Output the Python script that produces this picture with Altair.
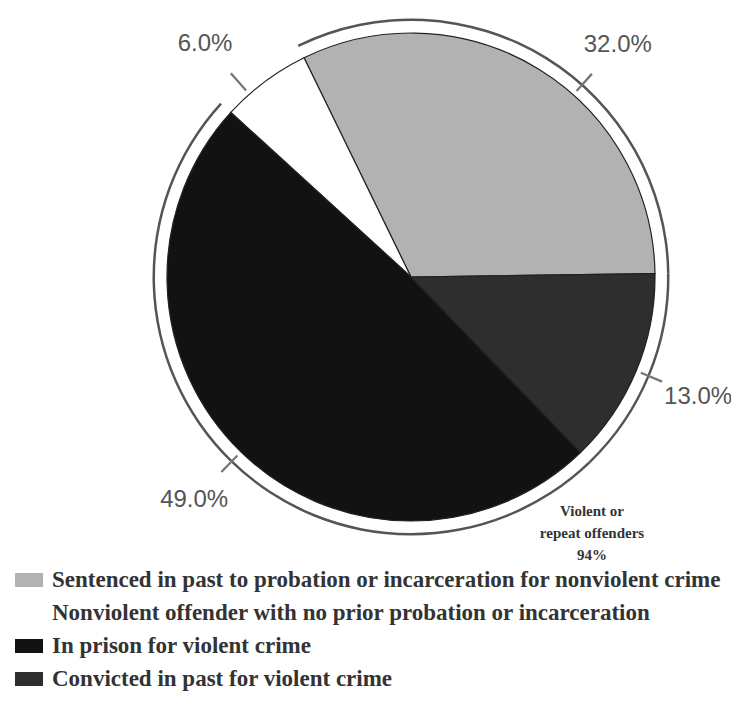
import math
import altair as alt
import pandas as pd

# ---- data (legend order) ----
categories = [
    "Sentenced in past to probation or incarceration for nonviolent crime",
    "Nonviolent offender with no prior probation or incarceration",
    "In prison for violent crime",
    "Convicted in past for violent crime",
]
values = [32.0, 6.0, 49.0, 13.0]
pie_order = [1, 4, 3, 2]          # clockwise order of slices in the pie
labels = ["32.0%", "6.0%", "49.0%", "13.0%"]
violent = [True, False, True, True]
note_lines = ["Violent or", "repeat offenders", "94%"]

# ---- styles ----
colors = ["#b2b2b2", "#ffffff", "#121212", "#2e2e2e"]
CX, CY = 403, 269
start = math.radians(-26)
total = sum(values)

df = pd.DataFrame({
    "category": categories,
    "value": values,
    "order": pie_order,
    "label": labels,
    "violent": violent,
})

theta_scale = alt.Scale(domain=[0, total], range=[start, start + 2 * math.pi])
base = alt.Chart(df)

legend = alt.Legend(
    title=None, orient="none", legendX=7, legendY=558, direction="vertical",
    symbolType="M-1,-0.5L1,-0.5L1,0.5L-1,0.5Z", symbolSize=784,
    symbolStrokeWidth=0, symbolOpacity=1,
    labelFont="Liberation Serif", labelFontWeight="bold", labelFontSize=23,
    labelColor="#333333", labelLimit=900, labelOffset=9, rowPadding=7, padding=0,
)

pie = base.mark_arc(outerRadius=244, stroke="#222222", strokeWidth=1.2).encode(
    theta=alt.Theta("value:Q", stack=True, scale=theta_scale),
    order=alt.Order("order:Q"),
    color=alt.Color("category:N", scale=alt.Scale(domain=categories, range=colors), legend=legend),
    x=alt.value(CX), y=alt.value(CY),
)

ring = base.transform_filter(alt.datum.violent).mark_arc(
    innerRadius=256, outerRadius=258.5, color="#555555"
).encode(
    theta=alt.Theta("value:Q", stack=True, scale=theta_scale),
    order=alt.Order("order:Q"),
    x=alt.value(CX), y=alt.value(CY),
)

# label/tick angle: middle of slice, nudged for the two top labels
mids = base.transform_window(
    cum="sum(value)", sort=[alt.SortField("order")]
).transform_calculate(
    mid="datum.cum - datum.value / 2 + (datum.order == 1 ? 2.8 : (datum.order == 4 ? -1.3 : 0))"
).transform_calculate(
    t0="datum.mid - 0.07", t1="datum.mid + 0.07"
)

ticks = mids.mark_arc(innerRadius=249, outerRadius=272, color="#777777").encode(
    theta=alt.Theta("t0:Q", stack=False, scale=theta_scale),
    theta2="t1:Q",
    x=alt.value(CX), y=alt.value(CY),
)

text_labels = mids.mark_text(
    radius=311, font="Liberation Sans", fontSize=24, color="#555555",
    align="center", baseline="middle",
).encode(
    theta=alt.Theta("mid:Q", stack=False, scale=theta_scale),
    text="label:N",
    x=alt.value(CX), y=alt.value(CY),
)

note = alt.Chart(pd.DataFrame({"t": [0]})).mark_text(
    text=note_lines, font="Liberation Serif", fontWeight="bold", fontSize=15,
    color="#333333", align="center", baseline="top", lineHeight=22,
).encode(x=alt.value(584), y=alt.value(496))

chart = alt.layer(ring, pie, ticks, text_labels, note).properties(
    width=723, height=693, padding=0,
    autosize=alt.AutoSizeParams(type="none"),
).configure_view(stroke=None)

chart.save("out.html", embed_options={"renderer": "svg", "actions": False})
